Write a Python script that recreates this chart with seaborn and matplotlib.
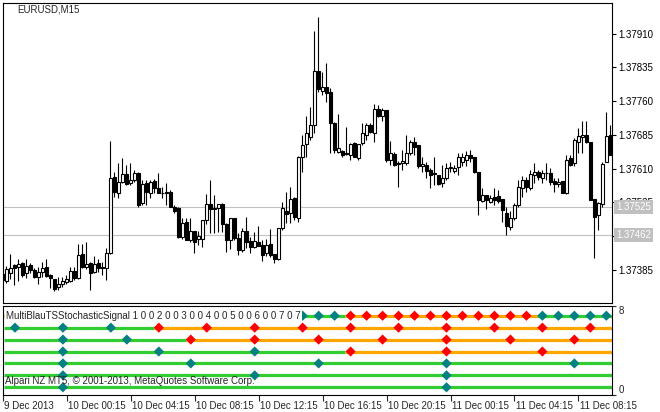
import numpy as np
import pandas as pd
import matplotlib
matplotlib.use('Agg')
import matplotlib.pyplot as plt
import matplotlib.transforms as mtransforms
import seaborn as sns

# EURUSD M15 candles, 9 Dec 2013 20:15 .. 11 Dec 2013 10:15
opens = [1.37376, 1.37361, 1.37379, 1.37396, 1.37392, 1.37400, 1.37378, 1.37396, 1.37385, 1.37370,
         1.37381, 1.37391, 1.37375, 1.37364, 1.37347, 1.37354, 1.37358, 1.37361, 1.37383, 1.37367,
         1.37421, 1.37391, 1.37400, 1.37381, 1.37400, 1.37392, 1.37389, 1.37422, 1.37591, 1.37555,
         1.37581, 1.37598, 1.37578, 1.37585, 1.37600, 1.37533, 1.37579, 1.37557, 1.37583, 1.37567,
         1.37557, 1.37555, 1.37559, 1.37526, 1.37523, 1.37458, 1.37492, 1.37452, 1.37472, 1.37455,
         1.37455, 1.37495, 1.37532, 1.37521, 1.37522, 1.37531, 1.37487, 1.37452, 1.37500, 1.37457,
         1.37429, 1.37472, 1.37449, 1.37437, 1.37447, 1.37441, 1.37422, 1.37442, 1.37420, 1.37409,
         1.37478, 1.37516, 1.37511, 1.37544, 1.37500, 1.37637, 1.37664, 1.37681, 1.37707, 1.37827,
         1.37783, 1.37791, 1.37781, 1.37711, 1.37648, 1.37649, 1.37646, 1.37641, 1.37667, 1.37633,
         1.37667, 1.37685, 1.37707, 1.37690, 1.37742, 1.37727, 1.37741, 1.37629, 1.37643, 1.37622,
         1.37622, 1.37622, 1.37644, 1.37670, 1.37663, 1.37615, 1.37618, 1.37607, 1.37601, 1.37596,
         1.37578, 1.37589, 1.37611, 1.37606, 1.37613, 1.37626, 1.37629, 1.37641, 1.37637, 1.37603,
         1.37539, 1.37552, 1.37537, 1.37548, 1.37549, 1.37542, 1.37512, 1.37480, 1.37500, 1.37529,
         1.37567, 1.37585, 1.37567, 1.37596, 1.37603, 1.37589, 1.37601, 1.37601, 1.37583, 1.37576,
         1.37583, 1.37557, 1.37633, 1.37622, 1.37670, 1.37681, 1.37685, 1.37670, 1.37542, 1.37507,
         1.37532, 1.37626, 1.37685]
highs = [1.37381, 1.37394, 1.37421, 1.37398, 1.37409, 1.37403, 1.37409, 1.37401, 1.37389, 1.37392,
         1.37403, 1.37409, 1.37376, 1.37365, 1.37370, 1.37370, 1.37374, 1.37392, 1.37392, 1.37442,
         1.37442, 1.37448, 1.37403, 1.37416, 1.37409, 1.37403, 1.37433, 1.37672, 1.37603, 1.37622,
         1.37633, 1.37618, 1.37622, 1.37607, 1.37603, 1.37585, 1.37585, 1.37585, 1.37587, 1.37600,
         1.37569, 1.37578, 1.37563, 1.37529, 1.37525, 1.37500, 1.37501, 1.37500, 1.37472, 1.37472,
         1.37495, 1.37553, 1.37585, 1.37552, 1.37532, 1.37534, 1.37489, 1.37500, 1.37501, 1.37467,
         1.37478, 1.37503, 1.37459, 1.37470, 1.37483, 1.37452, 1.37455, 1.37476, 1.37421, 1.37478,
         1.37535, 1.37559, 1.37570, 1.37548, 1.37638, 1.37685, 1.37727, 1.37748, 1.37915, 1.37948,
         1.37826, 1.37844, 1.37789, 1.37714, 1.37732, 1.37652, 1.37703, 1.37667, 1.37670, 1.37665,
         1.37711, 1.37712, 1.37712, 1.37754, 1.37752, 1.37744, 1.37741, 1.37672, 1.37648, 1.37627,
         1.37652, 1.37685, 1.37674, 1.37681, 1.37663, 1.37635, 1.37626, 1.37611, 1.37635, 1.37596,
         1.37618, 1.37622, 1.37626, 1.37618, 1.37644, 1.37644, 1.37650, 1.37652, 1.37637, 1.37603,
         1.37567, 1.37552, 1.37552, 1.37567, 1.37563, 1.37542, 1.37526, 1.37515, 1.37533, 1.37585,
         1.37594, 1.37592, 1.37607, 1.37622, 1.37607, 1.37607, 1.37623, 1.37611, 1.37589, 1.37589,
         1.37583, 1.37641, 1.37641, 1.37678, 1.37700, 1.37715, 1.37715, 1.37670, 1.37542, 1.37537,
         1.37626, 1.37737, 1.37707]
lows = [1.37358, 1.37356, 1.37365, 1.37352, 1.37361, 1.37370, 1.37367, 1.37378, 1.37367, 1.37355,
        1.37370, 1.37370, 1.37344, 1.37339, 1.37341, 1.37348, 1.37355, 1.37359, 1.37363, 1.37365,
        1.37389, 1.37387, 1.37341, 1.37378, 1.37381, 1.37374, 1.37363, 1.37420, 1.37548, 1.37544,
        1.37578, 1.37574, 1.37574, 1.37581, 1.37526, 1.37529, 1.37529, 1.37544, 1.37557, 1.37555,
        1.37546, 1.37529, 1.37524, 1.37512, 1.37456, 1.37455, 1.37451, 1.37448, 1.37423, 1.37441,
        1.37437, 1.37487, 1.37467, 1.37468, 1.37470, 1.37470, 1.37426, 1.37431, 1.37452, 1.37418,
        1.37426, 1.37433, 1.37422, 1.37434, 1.37438, 1.37406, 1.37417, 1.37415, 1.37400, 1.37408,
        1.37474, 1.37489, 1.37489, 1.37496, 1.37492, 1.37603, 1.37637, 1.37674, 1.37689, 1.37781,
        1.37774, 1.37759, 1.37644, 1.37644, 1.37644, 1.37637, 1.37641, 1.37629, 1.37637, 1.37629,
        1.37663, 1.37674, 1.37689, 1.37670, 1.37725, 1.37715, 1.37626, 1.37618, 1.37616, 1.37570,
        1.37607, 1.37618, 1.37641, 1.37641, 1.37611, 1.37603, 1.37589, 1.37567, 1.37574, 1.37574,
        1.37569, 1.37585, 1.37603, 1.37600, 1.37596, 1.37615, 1.37615, 1.37626, 1.37600, 1.37507,
        1.37537, 1.37520, 1.37533, 1.37529, 1.37533, 1.37492, 1.37463, 1.37474, 1.37496, 1.37526,
        1.37548, 1.37559, 1.37563, 1.37578, 1.37585, 1.37579, 1.37585, 1.37574, 1.37559, 1.37569,
        1.37555, 1.37554, 1.37616, 1.37616, 1.37644, 1.37644, 1.37667, 1.37541, 1.37411, 1.37474,
        1.37526, 1.37626, 1.37641]
closes = [1.37363, 1.37387, 1.37389, 1.37389, 1.37398, 1.37374, 1.37395, 1.37385, 1.37370, 1.37381,
          1.37389, 1.37372, 1.37368, 1.37342, 1.37354, 1.37361, 1.37365, 1.37383, 1.37367, 1.37418,
          1.37391, 1.37398, 1.37379, 1.37398, 1.37389, 1.37390, 1.37422, 1.37589, 1.37558, 1.37580,
          1.37598, 1.37576, 1.37585, 1.37601, 1.37529, 1.37576, 1.37559, 1.37581, 1.37567, 1.37555,
          1.37556, 1.37559, 1.37526, 1.37517, 1.37458, 1.37489, 1.37452, 1.37472, 1.37448, 1.37461,
          1.37495, 1.37532, 1.37521, 1.37522, 1.37531, 1.37487, 1.37452, 1.37500, 1.37457, 1.37429,
          1.37472, 1.37447, 1.37437, 1.37449, 1.37439, 1.37418, 1.37441, 1.37418, 1.37409, 1.37478,
          1.37522, 1.37509, 1.37542, 1.37502, 1.37637, 1.37663, 1.37690, 1.37707, 1.37827, 1.37787,
          1.37791, 1.37779, 1.37711, 1.37652, 1.37655, 1.37641, 1.37643, 1.37665, 1.37637, 1.37665,
          1.37690, 1.37707, 1.37692, 1.37742, 1.37727, 1.37741, 1.37629, 1.37644, 1.37618, 1.37621,
          1.37628, 1.37646, 1.37670, 1.37659, 1.37615, 1.37621, 1.37606, 1.37596, 1.37598, 1.37576,
          1.37589, 1.37611, 1.37613, 1.37611, 1.37637, 1.37637, 1.37641, 1.37633, 1.37603, 1.37541,
          1.37552, 1.37541, 1.37544, 1.37541, 1.37539, 1.37518, 1.37483, 1.37500, 1.37529, 1.37569,
          1.37585, 1.37569, 1.37598, 1.37603, 1.37591, 1.37600, 1.37600, 1.37581, 1.37576, 1.37581,
          1.37557, 1.37629, 1.37618, 1.37674, 1.37683, 1.37685, 1.37670, 1.37541, 1.37502, 1.37533,
          1.37621, 1.37683, 1.37641]

price_ticks = [1.37385, 1.37460, 1.37535, 1.37610, 1.37685, 1.37760, 1.37835, 1.37910]
hidden_ticks = [1.37460]  # fully covered by the level label in the reference
level_lines = [1.37525, 1.37462]

time_labels = ['9 Dec 2013', '10 Dec 00:15', '10 Dec 04:15', '10 Dec 08:15', '10 Dec 12:15',
               '10 Dec 16:15', '10 Dec 20:15', '11 Dec 00:15', '11 Dec 04:15', '11 Dec 08:15']
time_ticks = ['2013-12-09 20:15', '2013-12-10 00:15', '2013-12-10 04:15', '2013-12-10 08:15',
              '2013-12-10 12:15', '2013-12-10 16:15', '2013-12-10 20:15', '2013-12-11 00:15',
              '2013-12-11 04:15', '2013-12-11 08:15']

# signal rows (top row = 7 ... bottom row = 1): diamond bars and states
row_values = [7, 6, 5, 4, 3, 2, 1]
row_start = ['sell', 'buy', 'buy', 'buy', 'buy', 'buy', 'buy']
row_bars = [
    ['2013-12-10 15:00', '2013-12-10 16:00', '2013-12-10 17:00', '2013-12-10 18:00', '2013-12-10 19:00',
     '2013-12-10 20:00', '2013-12-10 21:00', '2013-12-10 22:00', '2013-12-10 23:00', '2013-12-11 00:00',
     '2013-12-11 01:00', '2013-12-11 02:00', '2013-12-11 03:00', '2013-12-11 04:00', '2013-12-11 05:00',
     '2013-12-11 06:00', '2013-12-11 07:00', '2013-12-11 08:00', '2013-12-11 09:00', '2013-12-11 10:00'],
    ['2013-12-09 21:00', '2013-12-10 00:00', '2013-12-10 03:00', '2013-12-10 06:00', '2013-12-10 09:00',
     '2013-12-10 12:00', '2013-12-10 15:00', '2013-12-10 18:00', '2013-12-10 21:00', '2013-12-11 00:00',
     '2013-12-11 03:00', '2013-12-11 06:00', '2013-12-11 09:00'],
    ['2013-12-10 00:00', '2013-12-10 04:00', '2013-12-10 08:00', '2013-12-10 12:00', '2013-12-10 16:00',
     '2013-12-10 20:00', '2013-12-11 00:00', '2013-12-11 04:00', '2013-12-11 08:00'],
    ['2013-12-10 00:00', '2013-12-10 06:00', '2013-12-10 12:00', '2013-12-10 18:00', '2013-12-11 00:00',
     '2013-12-11 06:00'],
    ['2013-12-10 00:00', '2013-12-10 08:00', '2013-12-10 16:00', '2013-12-11 00:00', '2013-12-11 08:00'],
    ['2013-12-10 00:00', '2013-12-10 12:00', '2013-12-11 00:00'],
    ['2013-12-10 00:00', '2013-12-11 00:00'],
]
row_states = [
    ['buy'] * 3 + ['sell'] * 12 + ['buy'] * 5,
    ['buy'] * 3 + ['sell'] * 10,
    ['buy'] * 2 + ['sell'] * 7,
    ['buy'] * 3 + ['sell'] * 3,
    ['buy'] * 5,
    ['buy'] * 3,
    ['buy'] * 2,
]

sns.set_style('white')
plt.rcParams['font.family'] = ['Liberation Sans', 'DejaVu Sans']
plt.rcParams['font.size'] = 7

W, H = 660, 412
fig = plt.figure(figsize=(W / 100, H / 100), dpi=100)
ax = fig.add_axes([3 / W, (H - 303) / H, 609 / W, 300.3 / H])
ax2 = fig.add_axes([3 / W, (H - 395) / H, 609 / W, 89.5 / H])

times = pd.date_range('2013-12-09 20:15', periods=len(opens), freq='15min')
df = pd.DataFrame({'time': times, 'open': opens, 'high': highs, 'low': lows, 'close': closes})
df['x'] = np.arange(len(df))
df['bull'] = df['close'] >= df['open']

xlim = (0.175, 152.42)

# --- price panel ---
for lv in level_lines:
    ax.axhline(lv, color='#c0c0c0', lw=0.8, zorder=1)
ax.vlines(df['x'], df['low'], df['high'], color='black', lw=0.8, zorder=2)
ax.bar(df['x'], df['close'] - df['open'], bottom=df['open'], width=0.62,
       color=np.where(df['bull'], 'white', 'black'), edgecolor='black', linewidth=0.8, zorder=3)
ax.set_xlim(*xlim)
ax.set_ylim(1.373117, 1.379789)
ax.set_xticks([])
ax.yaxis.tick_right()
ax.set_yticks(price_ticks)
ax.set_yticklabels(['' if p in hidden_ticks else f'{p:.5f}' for p in price_ticks])
ax.tick_params(axis='y', direction='out', length=3, width=0.8, pad=1.5, labelsize=7, colors='black', right=True)
for s in ax.spines.values():
    s.set_color('black')
    s.set_linewidth(0.8)
fig.text(17 / W, 1 - 5 / H, 'EURUSD,M15', va='top', ha='left', fontsize=7)

tr = mtransforms.blended_transform_factory(ax.transAxes, ax.transData)
for lv in level_lines:
    ax.text(1.0 + 4 / 609, lv, f'{lv:.5f}', transform=tr, color='white', va='center', ha='left',
            fontsize=7, clip_on=False, zorder=6,
            bbox=dict(boxstyle='square,pad=0.2', facecolor='#c0c0c0', edgecolor='none'))

# --- signal panel ---
pos = pd.Series(df['x'].values, index=df['time'])
colors = {'buy': '#32cd32', 'sell': '#ffa500'}
rows = []
for val, start, bars, states in zip(row_values, row_start, row_bars, row_states):
    bx = [pos[pd.Timestamp(b)] for b in bars]
    edges, cols, cur = [xlim[0]], [start], start
    for b, s in zip(bx, states):
        if s != cur:
            edges.append(b - 1.3)
            cols.append(s)
            cur = s
    edges.append(xlim[1])
    for k, c in enumerate(cols):
        ax2.hlines(val, edges[k], edges[k + 1], color=colors[c], lw=2.3, zorder=2)
    rows.append(pd.DataFrame({'bar': bx, 'row': val, 'state': states}))
sig = pd.concat(rows, ignore_index=True)
sns.scatterplot(data=sig, x='bar', y='row', hue='state', palette={'buy': '#008080', 'sell': '#ff0000'},
                marker='D', s=27, linewidth=0, legend=False, ax=ax2, zorder=4)

ax2.set_xlim(*xlim)
ax2.set_ylim(0.355, 7.857)
ax2.set_xlabel('')
ax2.set_ylabel('')
ax2.yaxis.tick_right()
ax2.set_yticks([0.355, 7.857])
ax2.set_yticklabels(['0', '8'])
lbls = ax2.get_yticklabels()
lbls[0].set_va('bottom')
lbls[1].set_va('top')
ax2.tick_params(axis='y', direction='out', length=3, width=0.8, pad=1.5, labelsize=7, right=True)
tick_pos = [pos[pd.Timestamp(t)] for t in time_ticks]
ax2.set_xticks(tick_pos)
ax2.set_xticklabels([])
ax2.tick_params(axis='x', direction='out', length=4, width=0.8, bottom=True)
xtr = mtransforms.blended_transform_factory(ax2.transData, ax2.transAxes)
for p, lab in zip(tick_pos, time_labels):
    ax2.text(p + 0.3, -0.07, lab, transform=xtr, ha='left', va='top', fontsize=7, clip_on=False)
for s in ax2.spines.values():
    s.set_color('black')
    s.set_linewidth(0.8)

ax2.text(3.5 / 609, 7, 'MultiBlauTSStochasticSignal 1 0 0 2 0 0 3 0 0 4 0 0 5 0 0 6 0 0 7 0 7',
         transform=mtransforms.blended_transform_factory(ax2.transAxes, ax2.transData),
         va='center', ha='left', fontsize=7, zorder=5,
         bbox=dict(boxstyle='square,pad=0.12', facecolor='white', edgecolor='none'))
ax2.text(2 / 609, 1.5, 'Alpari NZ MT5, \u00a9 2001-2013, MetaQuotes Software Corp.',
         transform=mtransforms.blended_transform_factory(ax2.transAxes, ax2.transData),
         va='center', ha='left', fontsize=7, zorder=5)

fig.savefig('out.png', dpi=100)
